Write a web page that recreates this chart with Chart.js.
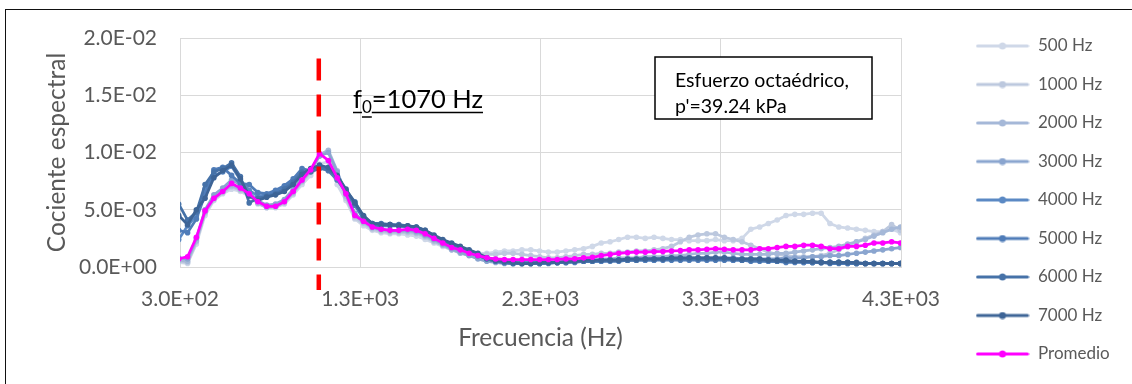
<!DOCTYPE html>
<html>
<head>
<meta charset="utf-8">
<script src="https://cdn.jsdelivr.net/npm/chart.js@4/dist/chart.umd.min.js"></script>
<style>
  html, body { margin: 0; padding: 0; background: #fff; overflow: hidden; }
  #wrap { position: relative; width: 1132px; height: 384px; }
  #frame { position: absolute; left: 5px; top: 9px; width: 1200px; height: 400px; border: 1.5px solid #111; pointer-events: none; }
  canvas { position: absolute; left: 0; top: 0; }
</style>
</head>
<body>
<div id="wrap">
  <canvas id="spectralChart" width="1132" height="384"></canvas>
  <div id="frame"></div>
</div>
<script>
// frecuencias de los puntos (Hz)
const freqs = [
  293, 342, 391, 439, 488, 537, 586, 635, 684, 732, 781, 830,
  879, 928, 977, 1025, 1074, 1123, 1172, 1221, 1270, 1318, 1367, 1416,
  1465, 1514, 1563, 1611, 1660, 1709, 1758, 1807, 1855, 1904, 1953, 2002,
  2051, 2100, 2148, 2197, 2246, 2295, 2344, 2393, 2441, 2490, 2539, 2588,
  2637, 2686, 2734, 2783, 2832, 2881, 2930, 2979, 3027, 3076, 3125, 3174,
  3223, 3271, 3320, 3369, 3418, 3467, 3516, 3564, 3613, 3662, 3711, 3760,
  3809, 3857, 3906, 3955, 4004, 4053, 4102, 4150, 4199, 4248, 4297, 4346
];

const s500 = [
  0.0004, 0.0003, 0.0020, 0.0045, 0.0058, 0.0064, 0.0068, 0.0066, 0.0062, 0.0055, 0.0052, 0.0052,
  0.0055, 0.0063, 0.0072, 0.0080, 0.0090, 0.0092, 0.0072, 0.0058, 0.0042, 0.0036, 0.0032, 0.0030,
  0.0029, 0.0029, 0.0028, 0.0027, 0.0024, 0.0021, 0.0018, 0.0015, 0.0013, 0.0012, 0.0012, 0.0012,
  0.0013, 0.0014, 0.0014, 0.0015, 0.0015, 0.0014, 0.0013, 0.0013, 0.0014, 0.0015, 0.0016, 0.0018,
  0.0021, 0.0022, 0.0024, 0.0026, 0.0026, 0.0025, 0.0026, 0.0025, 0.0024, 0.0024, 0.0023, 0.0023,
  0.0023, 0.0024, 0.0023, 0.0023, 0.0025, 0.0033, 0.0035, 0.0038, 0.0041, 0.0045, 0.0046, 0.0046,
  0.0047, 0.0047, 0.0038, 0.0035, 0.0034, 0.0033, 0.0032, 0.0031, 0.0031, 0.0033, 0.0030, 0.0030
];
const s1000 = [
  0.0005, 0.0004, 0.0022, 0.0047, 0.0059, 0.0065, 0.0070, 0.0067, 0.0063, 0.0056, 0.0052, 0.0052,
  0.0056, 0.0064, 0.0074, 0.0083, 0.0097, 0.0101, 0.0080, 0.0060, 0.0043, 0.0038, 0.0033, 0.0031,
  0.0030, 0.0030, 0.0030, 0.0029, 0.0026, 0.0022, 0.0019, 0.0016, 0.0014, 0.0012, 0.0011, 0.0011,
  0.0011, 0.0012, 0.0012, 0.0011, 0.0010, 0.0009, 0.0008, 0.0008, 0.0009, 0.0010, 0.0011, 0.0011,
  0.0012, 0.0012, 0.0013, 0.0013, 0.0014, 0.0014, 0.0015, 0.0016, 0.0018, 0.0022, 0.0026, 0.0028,
  0.0029, 0.0029, 0.0026, 0.0024, 0.0022, 0.0019, 0.0016, 0.0013, 0.0011, 0.0010, 0.0009, 0.0009,
  0.0009, 0.0010, 0.0012, 0.0015, 0.0018, 0.0022, 0.0025, 0.0028, 0.0031, 0.0037, 0.0032, 0.0030
];
const s2000 = [
  0.0006, 0.0005, 0.0023, 0.0048, 0.0060, 0.0066, 0.0071, 0.0068, 0.0063, 0.0056, 0.0052, 0.0053,
  0.0057, 0.0065, 0.0075, 0.0084, 0.0098, 0.0102, 0.0084, 0.0062, 0.0045, 0.0039, 0.0034, 0.0032,
  0.0031, 0.0031, 0.0031, 0.0030, 0.0027, 0.0023, 0.0019, 0.0015, 0.0012, 0.0010, 0.0008, 0.0006,
  0.0005, 0.0004, 0.0004, 0.0004, 0.0004, 0.0004, 0.0004, 0.0004, 0.0005, 0.0005, 0.0006, 0.0006,
  0.0007, 0.0007, 0.0008, 0.0008, 0.0008, 0.0009, 0.0009, 0.0009, 0.0010, 0.0010, 0.0011, 0.0012,
  0.0012, 0.0013, 0.0013, 0.0012, 0.0011, 0.0011, 0.0011, 0.0011, 0.0012, 0.0012, 0.0013, 0.0014,
  0.0015, 0.0016, 0.0017, 0.0018, 0.0020, 0.0022, 0.0024, 0.0027, 0.0030, 0.0033, 0.0035, 0.0031
];
const s3000 = [
  0.0008, 0.0007, 0.0025, 0.0050, 0.0063, 0.0069, 0.0076, 0.0072, 0.0065, 0.0058, 0.0054, 0.0055,
  0.0059, 0.0068, 0.0078, 0.0085, 0.0097, 0.0100, 0.0083, 0.0064, 0.0047, 0.0040, 0.0035, 0.0033,
  0.0032, 0.0032, 0.0032, 0.0031, 0.0028, 0.0024, 0.0020, 0.0016, 0.0013, 0.0010, 0.0007, 0.0005,
  0.0004, 0.0003, 0.0003, 0.0003, 0.0003, 0.0003, 0.0004, 0.0004, 0.0004, 0.0005, 0.0005, 0.0005,
  0.0006, 0.0006, 0.0006, 0.0006, 0.0007, 0.0007, 0.0007, 0.0007, 0.0007, 0.0008, 0.0008, 0.0008,
  0.0008, 0.0008, 0.0008, 0.0008, 0.0007, 0.0007, 0.0007, 0.0007, 0.0007, 0.0008, 0.0008, 0.0008,
  0.0009, 0.0009, 0.0010, 0.0010, 0.0011, 0.0012, 0.0013, 0.0014, 0.0015, 0.0016, 0.0017, 0.0017
];
const s4000 = [
  0.0024, 0.0036, 0.0045, 0.0068, 0.0080, 0.0083, 0.0088, 0.0076, 0.0067, 0.0062, 0.0063, 0.0066,
  0.0069, 0.0075, 0.0082, 0.0085, 0.0088, 0.0086, 0.0078, 0.0066, 0.0055, 0.0043, 0.0037, 0.0037,
  0.0037, 0.0036, 0.0035, 0.0034, 0.0031, 0.0027, 0.0023, 0.0020, 0.0017, 0.0014, 0.0011, 0.0008,
  0.0006, 0.0005, 0.0004, 0.0004, 0.0004, 0.0004, 0.0004, 0.0004, 0.0005, 0.0005, 0.0005, 0.0005,
  0.0005, 0.0006, 0.0006, 0.0006, 0.0006, 0.0006, 0.0006, 0.0007, 0.0007, 0.0007, 0.0007, 0.0007,
  0.0007, 0.0007, 0.0007, 0.0006, 0.0006, 0.0006, 0.0006, 0.0005, 0.0005, 0.0005, 0.0005, 0.0004,
  0.0004, 0.0004, 0.0004, 0.0004, 0.0003, 0.0003, 0.0003, 0.0003, 0.0003, 0.0003, 0.0003, 0.0003
];
const s5000 = [
  0.0032, 0.0030, 0.0042, 0.0063, 0.0085, 0.0087, 0.0080, 0.0073, 0.0072, 0.0065, 0.0064, 0.0067,
  0.0071, 0.0077, 0.0086, 0.0084, 0.0087, 0.0084, 0.0076, 0.0065, 0.0054, 0.0042, 0.0036, 0.0036,
  0.0036, 0.0036, 0.0035, 0.0034, 0.0031, 0.0026, 0.0022, 0.0019, 0.0016, 0.0013, 0.0010, 0.0007,
  0.0005, 0.0004, 0.0003, 0.0003, 0.0003, 0.0003, 0.0003, 0.0004, 0.0004, 0.0004, 0.0005, 0.0005,
  0.0005, 0.0005, 0.0005, 0.0006, 0.0006, 0.0006, 0.0006, 0.0006, 0.0006, 0.0006, 0.0006, 0.0006,
  0.0006, 0.0006, 0.0006, 0.0006, 0.0006, 0.0005, 0.0005, 0.0005, 0.0005, 0.0004, 0.0004, 0.0004,
  0.0004, 0.0004, 0.0003, 0.0003, 0.0003, 0.0003, 0.0003, 0.0003, 0.0003, 0.0003, 0.0003, 0.0003
];
const s6000 = [
  0.0055, 0.0041, 0.0048, 0.0072, 0.0083, 0.0086, 0.0091, 0.0079, 0.0056, 0.0060, 0.0062, 0.0064,
  0.0068, 0.0074, 0.0083, 0.0083, 0.0086, 0.0085, 0.0079, 0.0067, 0.0057, 0.0044, 0.0038, 0.0038,
  0.0037, 0.0037, 0.0036, 0.0035, 0.0032, 0.0027, 0.0023, 0.0020, 0.0017, 0.0013, 0.0010, 0.0007,
  0.0005, 0.0004, 0.0003, 0.0003, 0.0003, 0.0003, 0.0004, 0.0004, 0.0004, 0.0005, 0.0005, 0.0005,
  0.0006, 0.0006, 0.0006, 0.0006, 0.0006, 0.0007, 0.0007, 0.0007, 0.0007, 0.0007, 0.0007, 0.0007,
  0.0007, 0.0007, 0.0007, 0.0007, 0.0006, 0.0006, 0.0006, 0.0006, 0.0005, 0.0005, 0.0005, 0.0005,
  0.0004, 0.0004, 0.0004, 0.0004, 0.0004, 0.0003, 0.0003, 0.0003, 0.0003, 0.0003, 0.0003, 0.0003
];
const s7000 = [
  0.0045, 0.0037, 0.0050, 0.0060, 0.0078, 0.0084, 0.0089, 0.0077, 0.0062, 0.0058, 0.0061, 0.0063,
  0.0066, 0.0072, 0.0081, 0.0086, 0.0089, 0.0087, 0.0080, 0.0068, 0.0056, 0.0045, 0.0038, 0.0037,
  0.0037, 0.0036, 0.0036, 0.0035, 0.0032, 0.0028, 0.0024, 0.0021, 0.0018, 0.0015, 0.0012, 0.0008,
  0.0006, 0.0005, 0.0004, 0.0003, 0.0003, 0.0004, 0.0004, 0.0004, 0.0005, 0.0005, 0.0006, 0.0006,
  0.0006, 0.0006, 0.0006, 0.0007, 0.0007, 0.0007, 0.0007, 0.0007, 0.0008, 0.0008, 0.0008, 0.0008,
  0.0008, 0.0008, 0.0008, 0.0007, 0.0007, 0.0007, 0.0007, 0.0006, 0.0006, 0.0006, 0.0005, 0.0005,
  0.0005, 0.0004, 0.0004, 0.0004, 0.0004, 0.0004, 0.0003, 0.0003, 0.0003, 0.0003, 0.0003, 0.0003
];
const promedio = [
  0.0007, 0.0009, 0.0026, 0.0049, 0.0060, 0.0066, 0.0073, 0.0069, 0.0064, 0.0057, 0.0053, 0.0053,
  0.0057, 0.0066, 0.0076, 0.0085, 0.0099, 0.0093, 0.0078, 0.0064, 0.0045, 0.0040, 0.0035, 0.0033,
  0.0032, 0.0032, 0.0033, 0.0032, 0.0029, 0.0025, 0.0021, 0.0017, 0.0015, 0.0012, 0.0010, 0.0008,
  0.0007, 0.00066, 0.00065, 0.00065, 0.00065, 0.00065, 0.00065, 0.00066, 0.0007, 0.00072, 0.0008, 0.00085,
  0.0010, 0.0011, 0.0012, 0.00125, 0.0013, 0.0013, 0.00134, 0.00136, 0.0014, 0.00143, 0.0015, 0.0015,
  0.00155, 0.0016, 0.00155, 0.0015, 0.0015, 0.0015, 0.0016, 0.0016, 0.0017, 0.0018, 0.0018, 0.0019,
  0.0019, 0.0018, 0.0016, 0.0016, 0.0018, 0.0018, 0.0019, 0.0021, 0.0021, 0.0022, 0.0021, 0.0021
];

const seriesNames = ['500 Hz', '1000 Hz', '2000 Hz', '3000 Hz', '4000 Hz', '5000 Hz', '6000 Hz', '7000 Hz', 'Promedio'];
const seriesData = [s500, s1000, s2000, s3000, s4000, s5000, s6000, s7000, promedio];
const seriesColors = ['#CFD8E8', '#BCC8DE', '#A5B8D8', '#8AA5CF', '#5B89C4', '#4F7CB8', '#4672A8', '#3D6496', '#FF00FF'];

// frecuencia fundamental marcada con la linea roja
const f0 = 1070;
const f0Range = [0.01821, -0.00201];

const FONT = 'Lato';
Chart.defaults.font.family = FONT;

function sci(v) {
  const parts = Number(v).toExponential(1).split('e');
  const exp = parts[1];
  return parts[0] + 'E' + exp[0] + exp.slice(1).padStart(2, '0');
}

function legendIcon(color) {
  const c = document.createElement('canvas');
  c.width = 54;
  c.height = 8;
  const g = c.getContext('2d');
  g.strokeStyle = color;
  g.lineWidth = 3;
  g.lineCap = 'round';
  g.beginPath();
  g.moveTo(2, 4);
  g.lineTo(52, 4);
  g.stroke();
  g.fillStyle = color;
  g.beginPath();
  g.arc(27, 4, 3.5, 0, Math.PI * 2);
  g.fill();
  return c;
}
const icons = seriesColors.map(legendIcon);

const datasets = seriesNames.map((name, i) => ({
  label: name,
  data: freqs.map((f, j) => ({ x: f, y: seriesData[i][j] })),
  borderColor: seriesColors[i],
  backgroundColor: seriesColors[i],
  borderWidth: 2.75,
  pointRadius: 2.8,
  pointBorderWidth: 0,
  pointBackgroundColor: seriesColors[i],
  tension: 0,
  order: seriesNames.length - i
}));

datasets.push({
  label: 'f0',
  data: f0Range.map(y => ({ x: f0, y: y })),
  borderColor: '#FF0000',
  borderWidth: 4.5,
  borderDash: [22, 14],
  borderCapStyle: 'butt',
  pointRadius: 0,
  clip: false,
  order: 0
});

// ancho fijo de la leyenda
const legendWidth = {
  id: 'legendWidth',
  beforeInit(chart) {
    const fit = chart.legend.fit;
    chart.legend.fit = function () {
      fit.call(this);
      this.width = 178;
    };
  }
};

// etiqueta f0 y cuadro de texto
const notes = {
  id: 'notes',
  afterDraw(chart) {
    const ctx = chart.ctx;
    ctx.save();

    ctx.fillStyle = '#fff';
    ctx.fillRect(655, 57, 217, 62);
    ctx.strokeStyle = '#000';
    ctx.lineWidth = 1.5;
    ctx.strokeRect(655, 57, 217, 62);
    ctx.fillStyle = '#000';
    ctx.font = '19.5px ' + FONT;
    ctx.textBaseline = 'alphabetic';
    ctx.fillText('Esfuerzo octaédrico,', 675, 87);
    ctx.fillText("p'=39.24 kPa", 675, 113);

    let x = 353;
    const base = 108;
    ctx.font = '25.5px ' + FONT;
    ctx.fillText('f', x, base);
    const wf = ctx.measureText('f').width;
    ctx.font = '17px ' + FONT;
    ctx.fillText('0', x + wf, base + 5);
    const w0 = ctx.measureText('0').width;
    ctx.font = '25.5px ' + FONT;
    ctx.fillText('=1070 Hz', x + wf + w0, base);
    const wr = ctx.measureText('=1070 Hz').width;
    ctx.lineWidth = 1.5;
    ctx.beginPath();
    ctx.moveTo(x, base + 4.5);
    ctx.lineTo(x + wf, base + 4.5);
    ctx.moveTo(x + wf + w0, base + 4.5);
    ctx.lineTo(x + wf + w0 + wr, base + 4.5);
    ctx.moveTo(x + wf, base + 9);
    ctx.lineTo(x + wf + w0, base + 9);
    ctx.stroke();

    ctx.restore();
  }
};

const ctx = document.getElementById('spectralChart').getContext('2d');

const spectralChart = new Chart(ctx, {
  type: 'line',
  data: { datasets: datasets },
  options: {
    responsive: false,
    animation: false,
    devicePixelRatio: 1,
    layout: { padding: 0 },
    plugins: {
      legend: {
        position: 'right',
        align: 'end',
        labels: {
          usePointStyle: true,
          pointStyleWidth: 54,
          padding: 21.5,
          color: '#595959',
          font: { size: 17, family: FONT },
          sort: (a, b) => a.datasetIndex - b.datasetIndex,
          generateLabels: chart => Chart.defaults.plugins.legend.labels.generateLabels(chart)
            .filter(l => l.datasetIndex < seriesNames.length)
            .map(l => Object.assign(l, { pointStyle: icons[l.datasetIndex] }))
        }
      },
      tooltip: { enabled: false }
    },
    scales: {
      x: {
        type: 'linear',
        position: 'bottom',
        min: 300,
        max: 4300,
        ticks: {
          stepSize: 1000,
          padding: 20,
          color: '#595959',
          font: { size: 21 },
          maxRotation: 0,
          callback: v => sci(v)
        },
        grid: { color: '#D9D9D9', drawTicks: false },
        border: { color: '#D9D9D9' },
        title: {
          display: true,
          text: 'Frecuencia (Hz)',
          color: '#595959',
          font: { size: 24.5 },
          padding: { top: 31, bottom: 31 }
        },
        afterFit: s => { s.height = 117; }
      },
      x2: {
        type: 'linear',
        position: 'top',
        grid: { display: false },
        border: { display: false },
        ticks: { display: false },
        afterFit: s => { s.height = 38; }
      },
      y: {
        type: 'linear',
        min: 0,
        max: 0.02,
        ticks: {
          stepSize: 0.005,
          padding: 23,
          color: '#595959',
          font: { size: 21 },
          callback: v => sci(v)
        },
        grid: { color: '#D9D9D9', drawTicks: false },
        border: { color: '#D9D9D9' },
        title: {
          display: true,
          text: 'Cociente espectral',
          color: '#595959',
          font: { size: 24.5 },
          padding: { top: 42, bottom: 0 }
        },
        afterFit: s => { s.width = 180; }
      },
      y2: {
        type: 'linear',
        position: 'right',
        grid: { display: false },
        border: { display: false },
        ticks: { display: false },
        afterFit: s => { s.width = 53; }
      }
    }
  },
  plugins: [legendWidth, notes]
});
</script>
</body>
</html>
